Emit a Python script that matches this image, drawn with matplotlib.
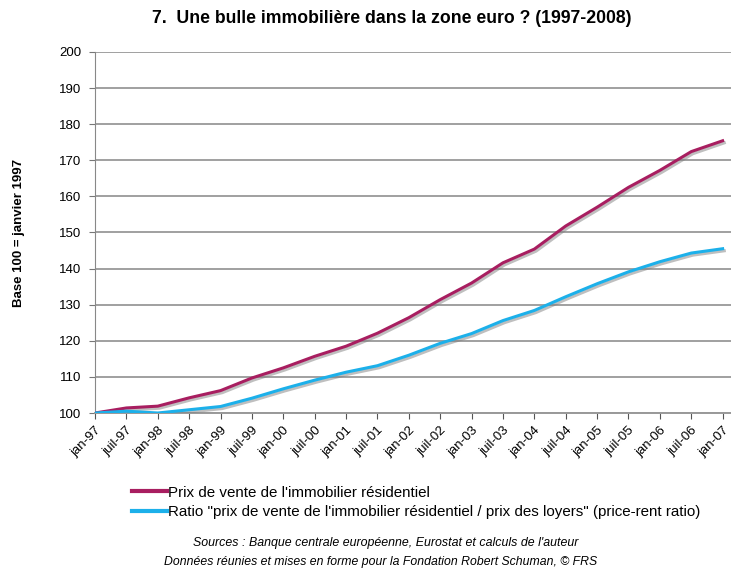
import matplotlib
matplotlib.use("Agg")
import matplotlib.pyplot as plt
import matplotlib.patheffects as pe
from matplotlib.lines import Line2D

plt.rcParams['font.family'] = ['Liberation Sans Narrow', 'Liberation Sans', 'DejaVu Sans']

# semi-annual readings, jan-97 .. jan-07 (months since jan-97)
months = [0, 6, 12, 18, 24, 30, 36, 42, 48, 54, 60, 66, 72, 78, 84, 90, 96, 102, 108, 114, 120]
prix = [100, 101.4, 101.9, 104.2, 106.2, 109.7, 112.5, 115.7, 118.5, 122.1, 126.4,
        131.4, 136.0, 141.6, 145.4, 151.8, 157.0, 162.5, 167.2, 172.4, 175.4]
ratio = [100, 100.5, 100.0, 100.9, 101.8, 104.1, 106.7, 109.1, 111.3, 113.1, 116.0,
         119.3, 122.0, 125.6, 128.4, 132.2, 135.8, 139.1, 141.9, 144.3, 145.5]
tick_labels = []
for yy in ["97", "98", "99", "00", "01", "02", "03", "04", "05", "06", "07"]:
    tick_labels.append("jan-" + yy)
    tick_labels.append("juil-" + yy)
tick_labels = tick_labels[:21]

label_prix = "Prix de vente de l'immobilier résidentiel"
label_ratio = "Ratio \"prix de vente de l'immobilier résidentiel / prix des loyers\" (price-rent ratio)"

col_prix = '#A81E60'
col_ratio = '#1CB0EA'

fig = plt.figure(figsize=(7.31, 5.71), dpi=100)
ax = fig.add_axes([0.130, 0.2767, 0.870, 0.6323])

shadow = [pe.SimpleLineShadow(offset=(1.2, -1.5), shadow_color='#808080', alpha=0.5), pe.Normal()]
ax.plot(months, prix, color=col_prix, lw=2.2, path_effects=shadow, zorder=3)
ax.plot(months, ratio, color=col_ratio, lw=2.2, path_effects=shadow, zorder=3)

ax.set_xlim(0, 121.6)
ax.set_ylim(100, 200)
ax.set_yticks(range(100, 201, 10))
ax.set_xticks(months)
ax.set_xticklabels(tick_labels, rotation=45, ha='right', rotation_mode='anchor', fontsize=9.5)
ax.tick_params(axis='y', labelsize=9.5, length=4, color='#777777', pad=6, direction='out')
ax.tick_params(axis='x', length=4, color='#555555', pad=4)
ax.yaxis.grid(True, color='#a0a0a0', lw=1.4)
ax.set_axisbelow(True)
for s in ['top', 'right']:
    ax.spines[s].set_visible(False)
ax.spines['left'].set_color('#888888')
ax.spines['bottom'].set_color('#999999')
ax.spines['bottom'].set_linewidth(1.4)

fig.text(0.536, 0.967, "7.  Une bulle immobilière dans la zone euro ? (1997-2008)",
         ha='center', va='center', fontsize=12.7, fontweight='bold')
fig.text(0.026, 0.592, "Base 100 = janvier 1997", rotation=90, ha='center', va='center',
         fontsize=9.5, fontweight='bold')

handles = [Line2D([], [], color=col_prix, lw=3), Line2D([], [], color=col_ratio, lw=3)]
fig.legend(handles, [label_prix, label_ratio], loc='upper left', bbox_to_anchor=(0.172, 0.160),
           frameon=False, fontsize=10.9, handlelength=2.3, handletextpad=0.1, labelspacing=0.35,
           borderaxespad=0)

fig.text(0.527, 0.049, "Sources : Banque centrale européenne, Eurostat et calculs de l'auteur",
         ha='center', va='center', fontsize=8.9, style='italic')
fig.text(0.520, 0.016, "Données réunies et mises en forme pour la Fondation Robert Schuman, © FRS",
         ha='center', va='center', fontsize=8.8, style='italic')

fig.savefig("out.png", dpi=100)
